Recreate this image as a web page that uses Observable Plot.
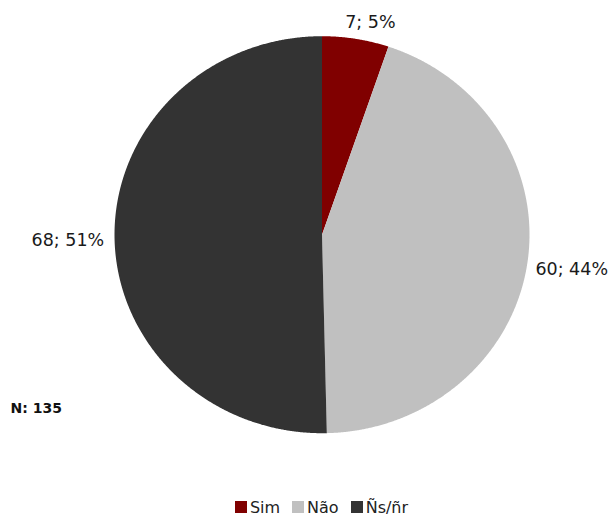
<!DOCTYPE html>
<html>
<head>
<meta charset="utf-8">
<script src="https://cdn.jsdelivr.net/npm/d3@7"></script>
<script src="https://cdn.jsdelivr.net/npm/@observablehq/plot@0.6"></script>
<style>
  body { margin: 0; background: #fff; font-family: "DejaVu Sans", sans-serif; }
  #chart { width: 611px; }
  .legend { display: flex; justify-content: center; align-items: center; height: 28px; font-size: 16px; color: #222; padding-left: 32px; box-sizing: border-box; width: 611px; }
  .legend .item { display: flex; align-items: center; margin: 0 6px; }
  .legend .sw { width: 12px; height: 12px; margin-right: 3px; }
</style>
</head>
<body>
<div id="chart"></div>
<script>
// ---- data ----
const categories = ["Sim", "Não", "Ñs/ñr"];
const counts = [7, 60, 68];
const labels = ["7; 5%", "60; 44%", "68; 51%"];
const colors = ["#800000", "#c0c0c0", "#333333"];
const note = "N: 135";

// ---- geometry derived from data ----
const pie = d3.pie().sort(null).value(d => d.count)(
  categories.map((c, i) => ({ category: c, count: counts[i], label: labels[i] }))
);
const step = Math.PI / 720;
const slicePts = [];
for (const s of pie) {
  slicePts.push({ category: s.data.category, x: 0, y: 0 });
  const n = Math.max(2, Math.ceil((s.endAngle - s.startAngle) / step));
  for (let k = 0; k <= n; k++) {
    const a = s.startAngle + (s.endAngle - s.startAngle) * k / n;
    slicePts.push({ category: s.data.category, x: Math.sin(a), y: Math.cos(a) });
  }
  slicePts.push({ category: s.data.category, x: 0, y: 0 });
}
const labelNudge = [13, -2, 0];
const labelPts = pie.map((s, i) => {
  const a = (s.startAngle + s.endAngle) / 2;
  const k = 1.05;
  const sx = Math.sin(a);
  return {
    label: s.data.label,
    x: k * sx,
    y: k * Math.cos(a),
    anchor: Math.abs(sx) < 0.3 ? "middle" : sx > 0 ? "start" : "end",
    line: Math.abs(sx) < 0.3 ? "bottom" : "middle",
    dx: labelNudge[i]
  };
});

const plot = Plot.plot({
  width: 611,
  height: 493,
  margin: 0,
  x: { domain: [-1, 1], range: [114, 529], axis: null },
  y: { domain: [-1, 1], range: [432.7, 35.7], axis: null },
  color: { domain: categories, range: colors },
  style: { fontFamily: "DejaVu Sans, sans-serif", background: "#fff" },
  marks: [
    Plot.line(slicePts, { x: "x", y: "y", z: "category", fill: "category", stroke: "none", curve: "linear" }),
    ...labelPts.map(d =>
      Plot.text([d], { x: "x", y: "y", text: "label", textAnchor: d.anchor, lineAnchor: d.line, dx: d.dx, dy: d.line === "middle" ? 3 : -1, fontSize: 17.5, fill: "#1a1a1a" })
    ),
    Plot.text([note], { frameAnchor: "top-left", dx: 10, dy: 408, text: d => d, textAnchor: "start", lineAnchor: "middle", fontWeight: "bold", fontSize: 14, fill: "#111" })
  ]
});
document.getElementById("chart").appendChild(plot);

const legend = document.createElement("div");
legend.className = "legend";
categories.forEach((c, i) => {
  const item = document.createElement("span");
  item.className = "item";
  const sw = document.createElement("span");
  sw.className = "sw";
  sw.style.background = colors[i];
  const t = document.createElement("span");
  t.textContent = c;
  item.appendChild(sw);
  item.appendChild(t);
  legend.appendChild(item);
});
document.getElementById("chart").appendChild(legend);
</script>
</body>
</html>
